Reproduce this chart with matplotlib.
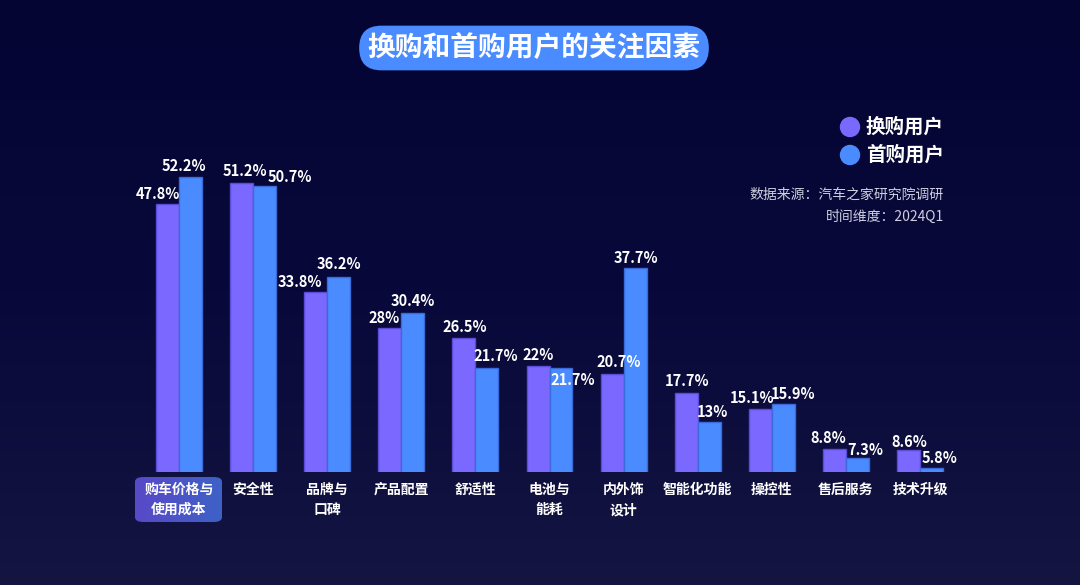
import numpy as np
import matplotlib.pyplot as plt
from matplotlib.patches import FancyBboxPatch, Ellipse
from matplotlib.colors import LinearSegmentedColormap

plt.rcParams['font.family'] = ['Noto Sans CJK SC', 'DejaVu Sans']

# data
categories = ['购车价格与\n使用成本', '安全性', '品牌与\n口碑', '产品配置', '舒适性', '电池与\n能耗',
              '内外饰\n设计', '智能化功能', '操控性', '售后服务', '技术升级']
swap_users = [47.8, 51.2, 33.8, 28, 26.5, 22, 20.7, 17.7, 15.1, 8.8, 8.6]
first_users = [52.2, 50.7, 36.2, 30.4, 21.7, 21.7, 37.7, 13, 15.9, 7.3, 5.8]
series_names = ['换购用户', '首购用户']
title = '换购和首购用户的关注因素'
source_lines = ['数据来源：汽车之家研究院调研', '时间维度：2024Q1']

# label nudges in pixels (dx, dy above bar top) to mimic the original placement
swap_off = [(-10, 10), (3, 12), (-16, 10), (-6, 10), (1, 11), (0, 11), (7, 12), (1, 12), (-8, 11), (-6, 11), (1, 8)]
first_off = [(-7, 11), (25, 9), (0, 13), (0, 12), (9, 12), (12, -12), (1, 10), (3, 10), (10, 10), (8, 8), (8, 10)]

PURPLE = '#7b68ff'
BLUE = '#4a8cff'
W, H = 1080, 585

fig = plt.figure(figsize=(10.8, 5.85), dpi=100)

# background gradient
bg = fig.add_axes([0, 0, 1, 1], zorder=-2)
grad = np.linspace(0, 1, 256).reshape(-1, 1)
bg_cmap = LinearSegmentedColormap.from_list('bg', ['#050534', '#08083a', '#151542'])
bg.imshow(grad, aspect='auto', cmap=bg_cmap, extent=[0, 1, 0, 1], origin='upper')
bg.set_xlim(0, 1)
bg.set_ylim(0, 1)
bg.axis('off')

# main axes: baseline at y=472px, group centers 179..920px
ymin, ymax = 5.1, 60
ax = fig.add_axes([104.9 / W, (H - 472) / H, 889.2 / W, 344.2 / H], zorder=1)
ax.set_facecolor('none')
x = np.arange(len(categories))
bw = 0.31
ax.bar(x - bw / 2, swap_users, bw, bottom=0, color=PURPLE, edgecolor='#5b4bd6', linewidth=1)
ax.bar(x + bw / 2, first_users, bw, bottom=0, color=BLUE, edgecolor='#3b6bd8', linewidth=1)
ax.set_xlim(-1, 11)
ax.set_ylim(ymin, ymax)
ax.axis('off')

pt = 72 / 100  # px -> pt
for i in range(len(x)):
    for val, xc, (dx, dy) in [(swap_users[i], x[i] - bw / 2, swap_off[i]),
                              (first_users[i], x[i] + bw / 2, first_off[i])]:
        ax.annotate(f'{val:g}%', (xc, val), xytext=(dx * pt, dy * pt), textcoords='offset points',
                    ha='center', va='center', color='white', fontsize=10.5, fontweight='bold')

# category labels
for i, cat in enumerate(categories):
    ax.annotate(cat, (x[i], ymin), xytext=(0, -11 * pt), textcoords='offset points',
                ha='center', va='top', color='white', fontsize=10, fontweight='bold', linespacing=1.55,
                zorder=5)

# highlight box behind first category (gradient)
bx0, by0, bx1, by1 = 135, 477, 222, 522
gax = fig.add_axes([0, 0, 1, 1], zorder=-1)
gax.set_xlim(0, 1)
gax.set_ylim(0, 1)
gax.axis('off')
hgrad = np.linspace(0, 1, 256).reshape(1, -1)
box_cmap = LinearSegmentedColormap.from_list('box', ['#5a48c8', '#3d62c6'])
im = gax.imshow(hgrad, aspect='auto', cmap=box_cmap,
                extent=[bx0 / W, bx1 / W, (H - by1) / H, (H - by0) / H])
gp = FancyBboxPatch((bx0 / W, (H - by1) / H), (bx1 - bx0) / W, (by1 - by0) / H,
                    boxstyle='round,pad=0,rounding_size=0.008', transform=gax.transData,
                    facecolor='none', edgecolor='none')
gax.add_patch(gp)
im.set_clip_path(gp)

# title
fig.text(534 / W, (H - 48) / H, title, ha='center', va='center', color='white',
         fontsize=20, fontweight='bold',
         bbox=dict(boxstyle='round,pad=0.3,rounding_size=0.8', fc=BLUE, ec='none'))

# legend
for k, (name, col) in enumerate(zip(series_names, [PURPLE, BLUE])):
    yc = (H - (127 + 28 * k)) / H
    fig.add_artist(Ellipse((850 / W, yc), 19 / W, 19 / H, transform=fig.transFigure, color=col))
    fig.text(866 / W, yc, name, ha='left', va='center', color='white', fontsize=14, fontweight='bold')

for k, line in enumerate(source_lines):
    fig.text(944 / W, (H - (195 + 22 * k)) / H, line, ha='right', va='center',
             color='#cfcfe0', fontsize=10)

fig.savefig('out.png', dpi=100)
